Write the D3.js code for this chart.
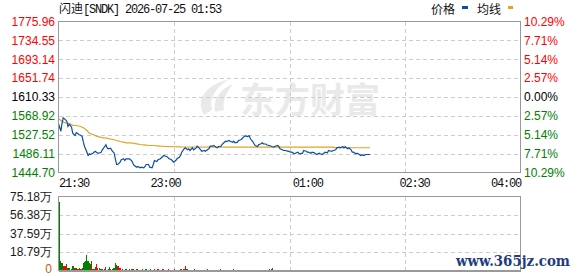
<!DOCTYPE html>
<html>
<head>
<meta charset="utf-8">
<script src="https://cdn.jsdelivr.net/npm/d3@7"></script>
<style>
body { margin: 0; background: #fff; }
svg { display: block; }
.num { font-family: "Liberation Sans", Arial, sans-serif; font-size: 12px; }
.mono { font-family: "Liberation Mono", "DejaVu Sans Mono", monospace; font-size: 12px; letter-spacing: -1.2px; }
.cjk { font-family: "Noto Sans CJK SC", sans-serif; font-size: 12px; }
</style>
</head>
<body>
<svg id="chart" width="578" height="276"></svg>
<script>
var stockName = "闪迪[SNDK]";
var stamp = "2026-07-25 01:53";
var prevClose = 1610.33;
var priceTicks = [1775.96, 1734.55, 1693.14, 1651.74, 1610.33, 1568.92, 1527.52, 1486.11, 1444.70];
var volTicks = [0, 18.79, 37.59, 56.38, 75.18];
var timeLabels = ["21:30", "23:00", "01:00", "02:30", "04:00"];

// minutes after 21:30
var priceMinutes = [0, 2, 3, 4, 6, 7, 8, 9, 10, 11, 12, 14, 15, 16, 17, 19, 20, 21, 22, 24,
    25, 26, 27, 29, 30, 31, 33, 34, 36, 37, 39, 40, 41, 42, 44, 45, 47, 48, 49, 50,
    52, 53, 55, 56, 57, 59, 60, 62, 63, 64, 66, 67, 69, 70, 72, 73, 74, 76, 77, 79,
    80, 81, 83, 84, 86, 88, 89, 90, 92, 93, 95, 96, 97, 99, 100, 102, 103, 104, 106, 107,
    109, 110, 111, 113, 114, 116, 117, 118, 120, 121, 123, 124, 126, 127, 128, 130, 131, 133, 134, 135,
    137, 138, 140, 141, 142, 144, 145, 147, 148, 149, 151, 152, 154, 155, 156, 158, 159, 161, 162, 164,
    165, 166, 168, 169, 171, 172, 173, 175, 176, 178, 179, 180, 182, 183, 185, 186, 187, 189, 190, 192,
    193, 194, 196, 197, 199, 200, 202, 203, 204, 206, 207, 209, 210, 211, 213, 214, 216, 217, 218, 220,
    221, 223, 224, 225, 227, 228, 230, 231, 232, 234, 235, 237, 238, 240, 241, 242, 244, 245, 247, 248,
    249, 251, 252, 254, 255, 256, 258, 259, 261, 262, 263];
var priceValues = [1551.53, 1535.30, 1552.85, 1564.70, 1560.31, 1557.24, 1545.61, 1550.00, 1547.80, 1544.08,
    1530.91, 1525.87, 1532.45, 1530.91, 1528.06, 1525.87, 1523.67, 1511.17, 1501.74, 1489.23,
    1481.99, 1485.72, 1484.18, 1487.04, 1489.23, 1491.42, 1487.04, 1487.04, 1489.23, 1494.50,
    1501.74, 1505.46, 1498.88, 1496.69, 1498.01, 1492.96, 1487.04, 1474.75, 1462.25, 1462.25,
    1467.29, 1472.56, 1474.75, 1471.02, 1474.75, 1474.75, 1474.75, 1469.49, 1463.78, 1460.05,
    1456.32, 1457.86, 1455.01, 1456.32, 1455.01, 1457.86, 1462.25, 1462.25, 1456.32, 1455.01,
    1462.25, 1471.02, 1468.83, 1472.56, 1474.75, 1479.80, 1481.99, 1480.89, 1478.70, 1475.41,
    1473.22, 1471.02, 1467.29, 1471.02, 1474.75, 1478.26, 1481.99, 1489.23, 1496.69, 1498.88,
    1494.50, 1496.69, 1492.96, 1498.88, 1494.50, 1498.01, 1502.39, 1500.20, 1494.50, 1491.42,
    1492.96, 1491.42, 1495.15, 1496.69, 1502.39, 1502.39, 1503.93, 1500.20, 1498.88, 1501.74,
    1501.74, 1506.12, 1511.17, 1513.36, 1512.70, 1514.90, 1513.36, 1511.17, 1513.36, 1509.85,
    1511.17, 1514.90, 1516.43, 1518.63, 1522.14, 1525.21, 1523.67, 1525.21, 1518.63, 1512.70,
    1507.66, 1503.93, 1501.74, 1505.46, 1507.66, 1509.85, 1507.66, 1507.22, 1505.03, 1503.93,
    1502.83, 1501.74, 1500.20, 1502.39, 1503.93, 1501.74, 1496.69, 1494.50, 1492.96, 1492.96,
    1491.42, 1491.42, 1489.23, 1489.23, 1485.72, 1487.04, 1489.23, 1487.04, 1485.72, 1487.04,
    1492.96, 1491.42, 1489.23, 1489.23, 1487.04, 1489.23, 1487.91, 1485.72, 1484.18, 1487.04,
    1485.72, 1484.18, 1487.04, 1489.23, 1487.91, 1492.96, 1491.42, 1491.42, 1492.96, 1494.50,
    1498.88, 1500.20, 1498.88, 1501.74, 1498.88, 1501.74, 1496.69, 1498.88, 1494.50, 1489.23,
    1489.23, 1485.72, 1487.04, 1484.18, 1481.99, 1483.53, 1481.99, 1484.18, 1484.18, 1484.18, 1484.18];

var avgMinutes = [0, 4, 7, 10, 12, 15, 18, 21, 24, 26, 29, 32, 35, 38, 41, 43, 46, 49, 52, 55,
    57, 60, 63, 66, 69, 72, 74, 77, 80, 83, 86, 91, 103, 145, 175, 230, 235, 263];
var avgValues = [1562.50, 1555.05, 1552.85, 1551.53, 1547.80, 1547.80, 1546.27, 1542.76, 1536.84, 1530.91,
    1528.06, 1524.33, 1522.14, 1520.82, 1519.94, 1518.63, 1517.09, 1514.90, 1512.70, 1511.17,
    1509.85, 1509.85, 1508.97, 1507.66, 1506.12, 1505.46, 1504.59, 1503.93, 1503.93, 1503.27,
    1502.39, 1501.74, 1500.70, 1500.30, 1500.50, 1500.20, 1499.20, 1499.00];

// volume per minute (万), 21:30 .. 01:53
var volValues = [69.4, 9.5, 8.1, 4.1, 4.1, 4.7, 6.4, 2.4, 2.4, 1.0,
    1.4, 4.1, 4.1, 3.0, 2.4, 1.4, 1.4, 3.0, 1.7, 3.0,
    8.0, 8.5, 9.5, 16.0, 9.5, 8.1, 6.4, 10.0, 2.0, 1.4,
    3.7, 6.8, 3.0, 1.0, 2.4, 1.4, 1.4, 1.0, 2.0, 3.7,
    1.0, 2.0, 3.7, 2.0, 1.0, 1.4, 3.0, 7.8, 5.4, 4.7,
    4.4, 2.4, 1.0, 1.2, 0.8, 1.0, 1.1, 0.9, 1.0, 1.3,
    1.0, 2.0, 1.1, 0.9, 1.0, 2.0, 1.2, 0.9, 1.0, 0.8,
    1.1, 1.0, 0.9, 1.2, 1.0, 0.8, 1.0, 1.1, 0.9, 1.0,
    1.7, 1.0, 0.9, 1.1, 1.0, 0.8, 1.0, 1.2, 2.0, 1.0,
    0.9, 1.0, 1.1, 0.8, 1.0, 0.9, 1.0, 1.2, 0.9, 1.0,
    1.0, 0.9, 2.0, 1.1, 1.0, 1.2, 4.7, 2.0, 2.0, 1.0,
    0.9, 1.0, 0.8, 1.0, 1.1, 0.9, 1.0, 0.8, 1.0, 0.9,
    1.0, 0.8, 1.0, 0.9, 1.0, 1.1, 0.8, 1.0, 0.9, 1.0,
    0.8, 1.0, 0.9, 1.0, 0.8, 1.0, 1.1, 0.9, 1.0, 0.8,
    1.0, 0.9, 1.0, 0.8, 1.0, 0.9, 1.0, 1.1, 0.8, 1.0,
    0.9, 1.0, 0.8, 1.0, 0.9, 1.0, 0.8, 1.0, 0.9, 1.0,
    1.0, 0.8, 1.0, 0.9, 1.0, 0.8, 1.0, 0.9, 1.0, 0.8,
    1.0, 0.9, 1.0, 0.8, 1.0, 0.9, 1.0, 1.2, 1.0, 1.1,
    3.0, 1.0, 0.9, 1.0, 0.8, 1.0, 0.9, 1.0, 0.8, 1.0,
    0.9, 1.0, 0.8, 1.0, 0.9, 1.0, 0.8, 1.0, 0.9, 1.0,
    0.8, 1.0, 0.9, 1.0, 0.8, 1.0, 0.9, 1.0, 0.8, 1.0,
    0.9, 1.0, 0.8, 1.0, 0.9, 1.0, 0.8, 1.0, 0.9, 1.0,
    0.8, 1.0, 0.9, 1.0, 0.8, 1.0, 0.9, 1.0, 0.8, 1.0,
    0.9, 1.0, 0.8, 1.0, 0.9, 1.0, 0.8, 1.0, 0.9, 1.0,
    0.8, 1.0, 0.9, 1.0, 0.8, 1.0, 0.9, 1.0, 0.8, 1.0,
    0.9, 1.0, 0.8, 1.0, 0.9, 1.0, 0.8, 1.0, 0.9, 1.0,
    0.8, 1.0, 0.9, 1.0];
// G = down (green), R = up (red)
var volDirs = "GGGRRRGRGRGGGRGRRGRGGGGGGGRGRGRRRGGGRRGRGGGRRGGGGRRRR" +
    "RRGGRRGGGR" + "RGGRRGGRRG" + "GRRGGRRRGG" + "RRGGRRRGGR" + "RGGRRGGRRG" +
    "RRRRGGRRGG" + "RRGGRRGGRR" + "GGRRGGRRGG" + "RRGGRRGGRR" + "GGRRRGGRRG" +
    "GRRGGRRGGR" + "RGGRRGGRRG" + "GRRGGRRGRR" + "GGRRGGRRGG" + "RRGGRRGGRR" +
    "GGRRGGRRGG" + "RRGGRRGGRR" + "GGRRGGRRGG" + "RRGGRRGGRR" + "GGRRGGRRGG" +
    "RRGGRRGGRR" + "G";

var upColor = "#ff0000",
    downColor = "#008000",
    priceColor = "#0a4fa0",
    avgColor = "#e2a425",
    gridColor = "#cccccc",
    frameColor = "#999999";

var left = 58.5, right = 520.5;
var mainTop = 21.5, mainBottom = 172.5;
var volTop = 196.5, volBottom = 270.5;

function parseHM(s) {
    var h = +s.slice(0, 2), m = +s.slice(3, 5);
    return new Date(2026, 6, h < 12 ? 25 : 24, h, m);
}
var startTime = parseHM(timeLabels[0]);
function toTime(m) {
    return new Date(startTime.getTime() + m * 60000);
}

var svg = d3.select("#chart");

var x = d3.scaleTime()
    .domain([parseHM(timeLabels[0]), parseHM(timeLabels[timeLabels.length - 1])])
    .range([left, right]);
var y = d3.scaleLinear()
    .domain([d3.min(priceTicks), d3.max(priceTicks)])
    .range([mainBottom, mainTop]);
var yVol = d3.scaleLinear()
    .domain([0, d3.max(volTicks)])
    .range([volBottom, volTop]);

function labelColor(p) {
    if (Math.abs(p - prevClose) < 0.005) return "#000";
    return p > prevClose ? upColor : downColor;
}

// watermark
var mark = svg.append("g").attr("class", "watermark").attr("fill", "#e9e9e9");
mark.append("path")
    .attr("d", "M204,115 C196,101 203,86 229,79 C215,88 209,99 212,110 Z");
mark.append("path")
    .attr("d", "M215,112 C213,99 220,89 233,84 C226,93 222,101 224,110 Z");
mark.append("text")
    .attr("x", 240)
    .attr("y", 113)
    .attr("font-family", "Noto Sans CJK SC")
    .attr("font-weight", "bold")
    .attr("font-size", 35)
    .text("东方财富");

// grid
var vGrid = [0.25, 0.5, 0.75].map(function(f) {
    return new Date(x.domain()[0].getTime() + f * (x.domain()[1] - x.domain()[0]));
});

var grid = svg.append("g")
    .attr("stroke", gridColor)
    .attr("stroke-dasharray", "4,3")
    .attr("shape-rendering", "crispEdges");

grid.selectAll(".hgrid")
    .data(priceTicks.slice(1, -1))
    .enter().append("line")
    .attr("x1", left).attr("x2", right)
    .attr("y1", function(d) { return Math.round(y(d)) + 0.5; })
    .attr("y2", function(d) { return Math.round(y(d)) + 0.5; });

grid.selectAll(".vgrid")
    .data(vGrid)
    .enter().append("line")
    .attr("x1", function(d) { return Math.round(x(d)) + 0.5; })
    .attr("x2", function(d) { return Math.round(x(d)) + 0.5; })
    .attr("y1", mainTop).attr("y2", mainBottom);

grid.selectAll(".hgridVol")
    .data(volTicks.slice(1, -1))
    .enter().append("line")
    .attr("x1", left).attr("x2", right)
    .attr("y1", function(d) { return Math.round(yVol(d)) + 0.5; })
    .attr("y2", function(d) { return Math.round(yVol(d)) + 0.5; });

grid.selectAll(".vgridVol")
    .data(vGrid)
    .enter().append("line")
    .attr("x1", function(d) { return Math.round(x(d)) + 0.5; })
    .attr("x2", function(d) { return Math.round(x(d)) + 0.5; })
    .attr("y1", volTop).attr("y2", volBottom);

// volume bars
var step = x(toTime(1)) - x(toTime(0));
svg.append("g")
    .attr("shape-rendering", "crispEdges")
    .selectAll("rect")
    .data(volValues)
    .enter().append("rect")
    .attr("x", function(d, i) { return x(toTime(i)) + 0.5; })
    .attr("width", step)
    .attr("y", function(d) { return yVol(d); })
    .attr("height", function(d) { return Math.max(1, yVol(0) - yVol(d)); })
    .attr("fill", function(d, i) {
        return volDirs.charAt(i) === "R" ? upColor : downColor;
    });

// lines
var avgLine = d3.line()
    .x(function(d, i) { return x(toTime(avgMinutes[i])); })
    .y(function(d) { return y(d); });
svg.append("path")
    .datum(avgValues)
    .attr("fill", "none")
    .attr("stroke", avgColor)
    .attr("stroke-width", 1.2)
    .attr("d", avgLine);

var priceLine = d3.line()
    .x(function(d, i) { return x(toTime(priceMinutes[i])); })
    .y(function(d) { return y(d); });
svg.append("path")
    .datum(priceValues)
    .attr("fill", "none")
    .attr("stroke", priceColor)
    .attr("stroke-width", 1.2)
    .attr("d", priceLine);

// frames
svg.append("rect")
    .attr("x", left).attr("y", mainTop)
    .attr("width", right - left).attr("height", mainBottom - mainTop)
    .attr("fill", "none").attr("stroke", frameColor)
    .attr("shape-rendering", "crispEdges");
svg.append("rect")
    .attr("x", left).attr("y", volTop)
    .attr("width", right - left).attr("height", volBottom - volTop)
    .attr("fill", "none").attr("stroke", frameColor)
    .attr("shape-rendering", "crispEdges");
svg.append("line")
    .attr("x1", left).attr("x2", right)
    .attr("y1", volBottom + 0.5).attr("y2", volBottom + 0.5)
    .attr("stroke", frameColor)
    .attr("shape-rendering", "crispEdges");

// price axis (left)
var yAxisLeft = svg.append("g")
    .attr("class", "num")
    .attr("transform", "translate(56,0)")
    .call(d3.axisLeft(y).tickValues(priceTicks).tickSize(0).tickPadding(1)
        .tickFormat(function(d) { return d.toFixed(2); }));
yAxisLeft.select(".domain").remove();
yAxisLeft.selectAll("text")
    .attr("font-family", null).attr("font-size", null)
    .attr("fill", function(d) { return labelColor(d); });

// percent axis (right)
var yAxisRight = svg.append("g")
    .attr("class", "num")
    .attr("transform", "translate(523,0)")
    .call(d3.axisRight(y).tickValues(priceTicks).tickSize(0).tickPadding(1)
        .tickFormat(function(d) {
            return Math.abs((d - prevClose) / prevClose * 100).toFixed(2) + "%";
        }));
yAxisRight.select(".domain").remove();
yAxisRight.selectAll("text")
    .attr("font-family", null).attr("font-size", null)
    .attr("fill", function(d) { return labelColor(d); });

// time axis
var xAxis = svg.append("g")
    .attr("class", "mono")
    .attr("transform", "translate(0,178.5)")
    .call(d3.axisBottom(x).tickValues(timeLabels.map(parseHM)).tickSize(0).tickPadding(0)
        .tickFormat(d3.timeFormat("%H:%M")));
xAxis.select(".domain").remove();
xAxis.selectAll("text")
    .attr("font-family", null).attr("font-size", null)
    .attr("fill", "#111")
    .attr("text-anchor", function(d, i) {
        if (i === 0) return "start";
        if (i === timeLabels.length - 1) return "end";
        return "middle";
    });

// volume axis
var volAxis = svg.append("g")
    .attr("class", "num")
    .attr("transform", "translate(53,0)")
    .call(d3.axisLeft(yVol).tickValues(volTicks).tickSize(0).tickPadding(1)
        .tickFormat(function(d) { return d === 0 ? "0" : d.toFixed(2) + "万"; }));
volAxis.select(".domain").remove();
volAxis.selectAll("text")
    .attr("font-family", null).attr("font-size", null)
    .attr("fill", function(d) { return d === 0 ? "#c06000" : "#1a1a1a"; })
    .attr("dy", function(d) { return d === 0 ? "0.18em" : "0.32em"; });

// title
var title = svg.append("text")
    .attr("x", 59)
    .attr("y", 13)
    .attr("fill", "#111");
title.append("tspan").attr("class", "cjk").text(stockName.slice(0, 2));
title.append("tspan").attr("class", "mono").text(stockName.slice(2) + " " + stamp);

// legend
var legend = svg.append("g").attr("class", "legend");
legend.append("text").attr("class", "cjk").attr("x", 431).attr("y", 14).attr("fill", "#111").text("价格");
legend.append("rect").attr("x", 462).attr("y", 6).attr("width", 6).attr("height", 3).attr("fill", priceColor);
legend.append("text").attr("class", "cjk").attr("x", 477).attr("y", 14).attr("fill", "#111").text("均线");
legend.append("rect").attr("x", 508).attr("y", 6).attr("width", 5).attr("height", 3).attr("fill", avgColor);

// site mark
svg.append("text")
    .attr("x", 456)
    .attr("y", 266)
    .attr("font-family", "DejaVu Serif")
    .attr("font-weight", "bold")
    .attr("font-size", 15)
    .attr("textLength", 114)
    .attr("lengthAdjust", "spacingAndGlyphs")
    .attr("fill", "#1f3d7a")
    .text("www.365jz.com");
</script>
</body>
</html>
